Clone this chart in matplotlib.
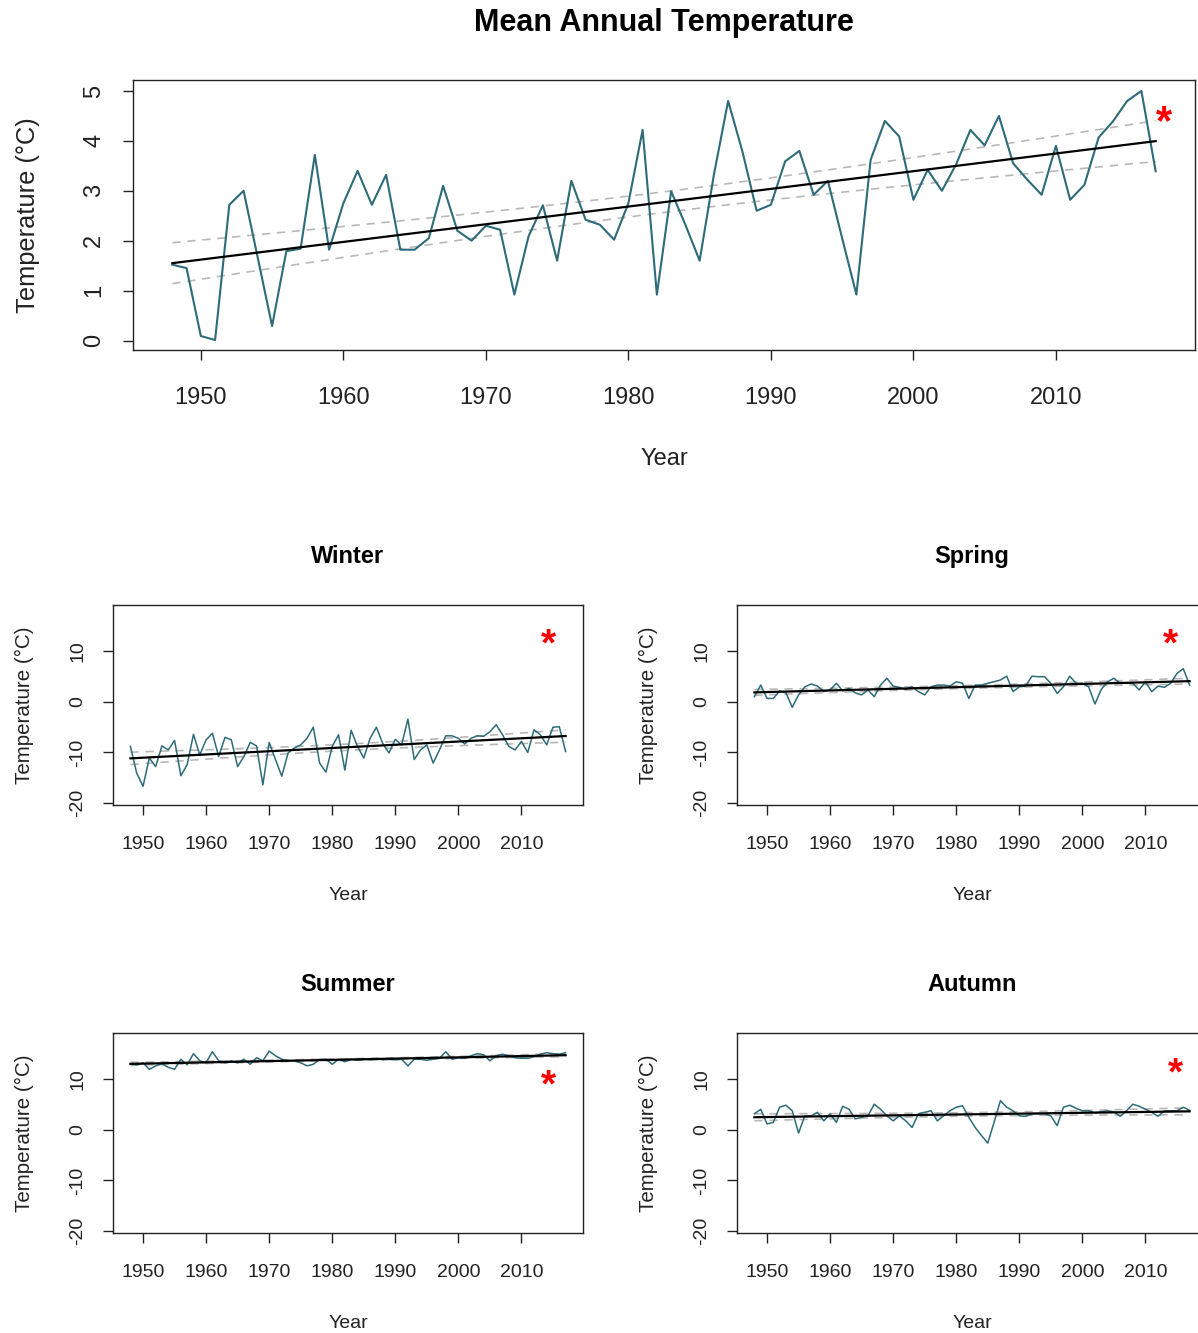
import numpy as np
import matplotlib
matplotlib.use("Agg")
import matplotlib.pyplot as plt

plt.rcParams['font.family'] = ['Liberation Sans', 'DejaVu Sans']
plt.rcParams['axes.unicode_minus'] = False

years = list(range(1948, 2018))

annual = [1.52, 1.45, 0.09, 0.01, 2.72, 3.00, 1.65, 0.29, 1.79, 1.84,
          3.72, 1.82, 2.75, 3.40, 2.72, 3.32, 1.82, 1.82, 2.05, 3.10,
          2.20, 2.00, 2.30, 2.22, 0.92, 2.09, 2.71, 1.60, 3.20, 2.42,
          2.32, 2.02, 2.75, 4.22, 0.92, 2.99, 2.32, 1.60, 3.32, 4.80,
          3.79, 2.60, 2.72, 3.59, 3.80, 2.92, 3.20, 2.05, 0.92, 3.62,
          4.40, 4.09, 2.82, 3.42, 3.00, 3.53, 4.22, 3.91, 4.50, 3.55,
          3.22, 2.92, 3.90, 2.82, 3.12, 4.07, 4.39, 4.80, 5.00, 3.39]

winter = [-8.8, -14.1, -16.7, -11.1, -12.8, -8.7, -9.5, -7.6, -14.6, -12.4,
          -6.4, -10.5, -7.5, -6.2, -10.8, -7.0, -7.5, -12.8, -10.8, -8.0,
          -8.7, -16.4, -8.0, -11.4, -14.7, -10.1, -9.1, -8.5, -7.2, -5.0,
          -12.1, -13.9, -8.8, -6.5, -13.5, -5.6, -8.8, -11.1, -7.2, -5.0,
          -8.2, -10.1, -7.4, -8.5, -3.4, -11.4, -9.5, -8.5, -12.1, -9.5,
          -6.7, -6.7, -7.2, -8.3, -7.2, -6.7, -6.8, -5.9, -4.5, -6.5,
          -8.8, -9.5, -7.8, -10.0, -5.5, -6.5, -8.5, -5.0, -4.9, -9.8]

spring = [1.05, 3.35, 0.7, 0.7, 2.2, 1.8, -1.05, 1.4, 3.0, 3.55,
          3.15, 2.05, 2.4, 3.7, 2.2, 2.7, 1.8, 1.4, 2.4, 1.05,
          3.35, 4.7, 3.15, 2.9, 2.5, 3.0, 2.05, 1.4, 3.0, 3.35,
          3.35, 3.15, 4.0, 3.7, 0.7, 3.35, 3.35, 3.7, 4.0, 4.35,
          5.1, 2.05, 3.0, 3.15, 5.1, 5.0, 5.0, 3.7, 1.7, 3.0,
          5.1, 3.7, 3.7, 3.0, -0.4, 2.5, 4.0, 4.7, 3.7, 3.7,
          3.7, 2.4, 4.0, 2.05, 3.15, 2.9, 3.7, 5.65, 6.6, 3.35]

summer = [13.1, 12.9, 13.3, 12.0, 12.7, 13.1, 12.4, 12.0, 14.0, 12.9,
          15.1, 13.7, 13.3, 15.5, 13.7, 13.3, 13.7, 13.3, 14.0, 13.0,
          14.3, 13.7, 15.6, 14.7, 14.0, 13.7, 13.7, 13.3, 12.7, 13.0,
          14.0, 14.0, 13.0, 14.0, 13.5, 14.0, 13.8, 14.0, 13.9, 14.1,
          13.9, 14.0, 13.9, 14.0, 12.7, 14.0, 14.0, 13.8, 14.0, 14.2,
          15.5, 14.0, 14.3, 14.2, 14.7, 15.1, 14.9, 13.7, 14.7, 15.0,
          14.7, 14.3, 14.2, 14.2, 14.5, 15.0, 15.3, 15.1, 15.0, 15.3]

autumn = [3.2, 4.1, 1.2, 1.5, 4.5, 4.9, 3.8, -0.6, 2.8, 2.8,
          3.5, 1.8, 3.2, 1.5, 4.7, 4.1, 2.2, 2.5, 2.8, 5.1,
          4.1, 2.8, 1.8, 2.8, 1.8, 0.5, 3.2, 3.5, 3.8, 1.8,
          2.8, 3.8, 4.5, 4.8, 2.5, 0.5, -1.1, -2.6, 1.5, 5.8,
          4.5, 3.8, 2.8, 2.7, 3.2, 3.2, 3.2, 2.8, 0.85, 4.5,
          4.9, 4.3, 3.8, 3.8, 3.4, 3.6, 3.8, 3.6, 2.7, 3.8,
          5.1, 4.7, 4.1, 3.5, 2.7, 3.8, 3.8, 3.8, 4.5, 3.9]

season_titles = ["Winter", "Spring", "Summer", "Autumn"]
season_data = [winter, spring, summer, autumn]
year_ticks = [1950, 1960, 1970, 1980, 1990, 2000, 2010]
annual_yticks = [0, 1, 2, 3, 4, 5]
season_yticks = [-20, -10, 0, 10]
# significance marker position (year, value) per panel
star_annual = (2017.6, 4.36)
star_season = [(2014.3, 11.2), (2014.0, 11.2), (2014.3, 8.6), (2014.8, 11.0)]

LINE_COL = "#2E6B78"
CI_COL = "#B8B8B8"


def fit_ci(x, y):
    x = np.asarray(x, float)
    y = np.asarray(y, float)
    n = len(x)
    b, a = np.polyfit(x, y, 1)
    pred = a + b * x
    resid = y - pred
    s = np.sqrt(np.sum(resid ** 2) / (n - 2))
    sxx = np.sum((x - x.mean()) ** 2)
    se = s * np.sqrt(1.0 / n + (x - x.mean()) ** 2 / sxx)
    t = 1.995
    return pred, pred - t * se, pred + t * se


def draw(ax, y, fs, lw):
    x = np.array(years)
    pred, lo, hi = fit_ci(x, y)
    ax.plot(x, lo, color=CI_COL, lw=1.2, ls=(0, (5, 4)))
    ax.plot(x, hi, color=CI_COL, lw=1.2, ls=(0, (5, 4)))
    ax.plot(x, y, color=LINE_COL, lw=lw)
    ax.plot(x, pred, color="black", lw=1.6)
    for s in ax.spines.values():
        s.set_linewidth(1.0)
        s.set_color("#222222")
    ax.tick_params(direction="out", length=7, width=1.0, colors="#222222",
                   labelsize=fs, labelcolor="#222222")
    ax.tick_params(axis="y", labelrotation=90)


W, H = 1198, 1333
fig = plt.figure(figsize=(W / 100, H / 100), dpi=100)


def rect(l, t, r, b):
    return [l / W, 1 - b / H, (r - l) / W, (b - t) / H]


ax0 = fig.add_axes(rect(133, 80, 1195, 350))
draw(ax0, annual, 17, 1.5)
ax0.set_xlim(1945.24, 2019.76)
ax0.set_ylim(-0.19, 5.22)
ax0.set_xticks(year_ticks)
ax0.set_yticks(annual_yticks)
ax0.tick_params(axis="x", pad=20)
ax0.tick_params(axis="y", pad=13)
for lab in ax0.get_yticklabels():
    lab.set_va("center")
ax0.set_xlabel("Year", fontsize=17, labelpad=28, color="#222222")
ax0.set_ylabel("Temperature (\u00b0C)", fontsize=18.3, labelpad=31, color="#222222")
ax0.set_title("Mean Annual Temperature", fontsize=22, fontweight="bold", pad=35)
ax0.text(*star_annual, "*", color="red", fontsize=30, fontweight="bold",
         ha="center", va="center")

rects = [rect(113, 605, 583, 805), rect(737, 605, 1207, 805),
         rect(113, 1033, 583, 1233), rect(737, 1033, 1207, 1233)]
for i, (r, title, data) in enumerate(zip(rects, season_titles, season_data)):
    ax = fig.add_axes(r)
    draw(ax, data, 14, 1.1)
    ax.set_xlim(1945.24, 2019.76)
    ax.set_ylim(-20.4, 19.2)
    ax.set_xticks(year_ticks)
    ax.set_yticks(season_yticks)
    ax.tick_params(axis="x", pad=15)
    ax.tick_params(axis="y", pad=12)
    for lab in ax.get_yticklabels():
        lab.set_va("center")
    ax.set_xlabel("Year", fontsize=14, labelpad=25, color="#222222")
    ax.set_ylabel("Temperature (\u00b0C)", fontsize=14.8, labelpad=26, color="#222222")
    ax.set_title(title, fontsize=17, fontweight="bold", pad=30)
    ax.text(*star_season[i], "*", color="red", fontsize=28, fontweight="bold",
            ha="center", va="center")

fig.savefig("out.png", dpi=100, facecolor="white")
